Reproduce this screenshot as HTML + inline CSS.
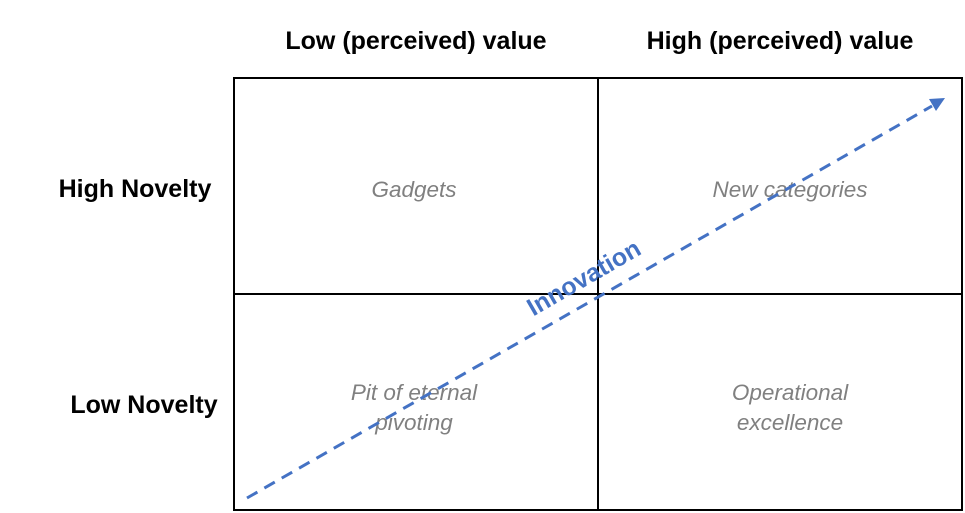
<!DOCTYPE html>
<html><head><style>
body{margin:0;background:#fff;width:965px;height:513px;overflow:hidden}
svg{display:block}
text{font-family:"Liberation Sans",sans-serif}
</style></head><body>
<svg width="965" height="513" viewBox="0 0 965 513">
<g font-size="25" font-weight="bold" fill="#000" text-anchor="middle">
<text x="416" y="49">Low (perceived) value</text>
<text x="780" y="49">High (perceived) value</text>
<text x="135" y="197">High Novelty</text>
<text x="144" y="413">Low Novelty</text>
</g>
<g stroke="#000" stroke-width="2" fill="none">
<rect x="234" y="78" width="728" height="432"/>
<line x1="598" y1="78" x2="598" y2="510"/>
<line x1="234" y1="294" x2="962" y2="294"/>
</g>
<g font-size="22.5" font-style="italic" fill="#808080" text-anchor="middle">
<text x="414" y="197">Gadgets</text>
<text x="790" y="197">New categories</text>
<text x="414" y="400">Pit of eternal</text>
<text x="414" y="430">pivoting</text>
<text x="790" y="400">Operational</text>
<text x="790" y="430">excellence</text>
</g>
<line x1="247" y1="498" x2="932" y2="106" stroke="#4472C4" stroke-width="3" stroke-dasharray="12,8"/>
<polygon points="945,98 929,99 936,111" fill="#4472C4"/>
<text x="588" y="285" font-size="25" font-weight="bold" fill="#4472C4" text-anchor="middle" transform="rotate(-30 588 285)">Innovation</text>
</svg>
</body></html>
